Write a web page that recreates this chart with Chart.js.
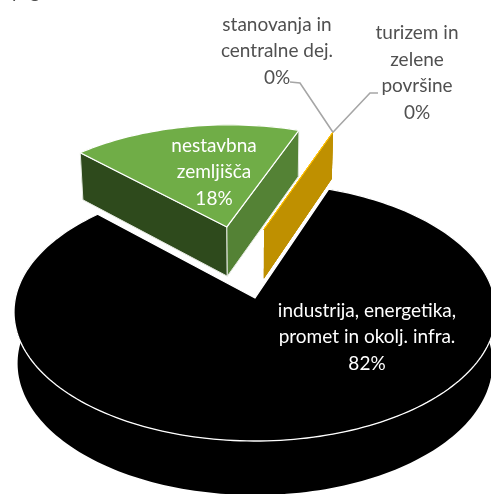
<!DOCTYPE html>
<html>
<head>
<meta charset="utf-8">
<style>
    html, body { margin: 0; padding: 0; background: #fff; overflow: hidden; }
    #chartPie { display: block; }
</style>
</head>
<body>
<canvas id="chartPie" width="491" height="494"></canvas>
<script src="https://cdn.jsdelivr.net/npm/chart.js@4"></script>
<script>
const categories = ['nestavbna zemljišča', 'stanovanja in centralne dej.', 'turizem in zelene površine', 'industrija, energetika, promet in okolj. infra.'];
const shares = [18, 0, 0, 82];

const topColors = ['#70AD47', '#FFC000', '#FFC000', '#000000'];
const leftFaceColors = ['#2E4A1C', '#BF9000', '#BF9000', '#000000'];
const rightFaceColors = ['#548235', '#BF9000', '#BF9000', '#000000'];

// label text split the way it wraps in the picture
const labelLines = [
    ['nestavbna', 'zemljišča', '18%'],
    ['stanovanja in', 'centralne dej.', '0%'],
    ['turizem in', 'zelene', 'površine', '0%'],
    ['industrija, energetika,', 'promet in okolj. infra.', '82%']
];
const labelColors = ['#FFFFFF', '#505050', '#505050', '#FFFFFF'];
const labelCenters = [[214, 172], [277, 51], [417, 73], [367, 337]];
const lineHeight = 26.5;

// how far each slice is pulled out, in units of the pie radius
const explode = [[-0.125, -0.593], [0.04, -0.573], [0.04, -0.573], [0, 0]];

// perspective of the tilted pie
const view = { cx: 255, cy: 298, sx: 239.6, sy: 127.5, tilt: -0.1085 };

function project(u, v) {
    const d = 1 + view.tilt * v;
    return { x: view.cx + view.sx * u / d, y: view.cy + view.sy * v / d };
}

function projectBottom(u, v) {
    const p = project(u, v);
    return { x: view.cx + (p.x - view.cx) * 0.985, y: p.y + 51 + 3 * v };
}

function pathFrom(ctx, pts) {
    ctx.beginPath();
    pts.forEach((p, i) => i == 0 ? ctx.moveTo(p.x, p.y) : ctx.lineTo(p.x, p.y));
}

function rimPoints(arc, off, fn) {
    const pts = [];
    const steps = Math.max(1, Math.round((arc.endAngle - arc.startAngle) * 40));
    for (let i = 0; i <= steps; i++) {
        const a = arc.startAngle + (arc.endAngle - arc.startAngle) * i / steps;
        pts.push(fn(off[0] + Math.cos(a), off[1] + Math.sin(a)));
    }
    return pts;
}

function drawSlice(ctx, arc, i) {
    const off = explode[i];
    const apexTop = project(off[0], off[1]);
    const apexBottom = projectBottom(off[0], off[1]);
    const top = rimPoints(arc, off, project);
    const bottom = rimPoints(arc, off, projectBottom);

    // outer wall
    pathFrom(ctx, top.concat(bottom.slice().reverse()));
    ctx.closePath();
    ctx.fillStyle = topColors[i];
    ctx.fill();

    // cut faces, only the ones turned to the viewer
    if (shares[i] < 50) {
        const first = [apexTop, top[0], bottom[0], apexBottom];
        const last = [apexTop, top[top.length - 1], bottom[bottom.length - 1], apexBottom];
        [[first, leftFaceColors[i]], [last, rightFaceColors[i]]].forEach(([face, color]) => {
            pathFrom(ctx, face);
            ctx.closePath();
            ctx.fillStyle = color;
            ctx.fill();
            if (shares[i] > 0) {
                ctx.strokeStyle = '#E4E8E0';
                ctx.lineWidth = 1;
                ctx.stroke();
            }
        });
    }

    // top face
    pathFrom(ctx, [apexTop].concat(top));
    ctx.closePath();
    ctx.fillStyle = topColors[i];
    ctx.fill();
    ctx.strokeStyle = shares[i] > 0 ? '#FFFFFF' : topColors[i];
    ctx.lineWidth = shares[i] > 0 ? 1.3 : 1;
    ctx.stroke();
}

const pie3d = {
    id: 'pie3d',
    beforeDatasetsDraw(chart) {
        const ctx = chart.ctx;
        const arcs = chart.getDatasetMeta(0).data;
        ctx.save();
        [3, 1, 2, 0].forEach((i) => drawSlice(ctx, arcs[i], i));
        ctx.restore();
        return false;
    },
    afterDraw(chart) {
        const ctx = chart.ctx;
        const arcs = chart.getDatasetMeta(0).data;
        ctx.save();

        // leader lines of the two empty slices
        const tip = project(explode[1][0] + Math.cos(arcs[1].startAngle), explode[1][1] + Math.sin(arcs[1].startAngle));
        ctx.strokeStyle = '#A6A6A6';
        ctx.lineWidth = 1.6;
        [[[290, 82], [300, 83]], [[378, 93], [370, 93]]].forEach((seg) => {
            ctx.beginPath();
            ctx.moveTo(seg[0][0], seg[0][1]);
            ctx.lineTo(seg[1][0], seg[1][1]);
            ctx.lineTo(tip.x, tip.y);
            ctx.stroke();
        });

        ctx.font = '19px Lato';
        ctx.textAlign = 'center';
        ctx.textBaseline = 'middle';
        labelLines.forEach((lines, i) => {
            ctx.fillStyle = labelColors[i];
            lines.forEach((line, j) => {
                const y = labelCenters[i][1] + (j - (lines.length - 1) / 2) * lineHeight;
                ctx.fillText(line, labelCenters[i][0], y);
            });
        });

        // tail of the caption that is cut off above the picture
        ctx.fillStyle = '#505050';
        ctx.textAlign = 'left';
        ctx.textBaseline = 'alphabetic';
        ctx.fillText('p', 12, -2);
        ctx.fillText('g', 30, -2);
        ctx.restore();
    }
};

new Chart(document.getElementById('chartPie'), {
    type: 'pie',
    data: {
        labels: categories,
        datasets: [{ data: shares, backgroundColor: topColors, borderColor: '#FFFFFF', borderWidth: 1 }]
    },
    options: {
        responsive: false,
        animation: false,
        rotation: -45,
        plugins: {
            legend: { display: false },
            tooltip: { enabled: false }
        }
    },
    plugins: [pie3d]
});
</script>
</body>
</html>
